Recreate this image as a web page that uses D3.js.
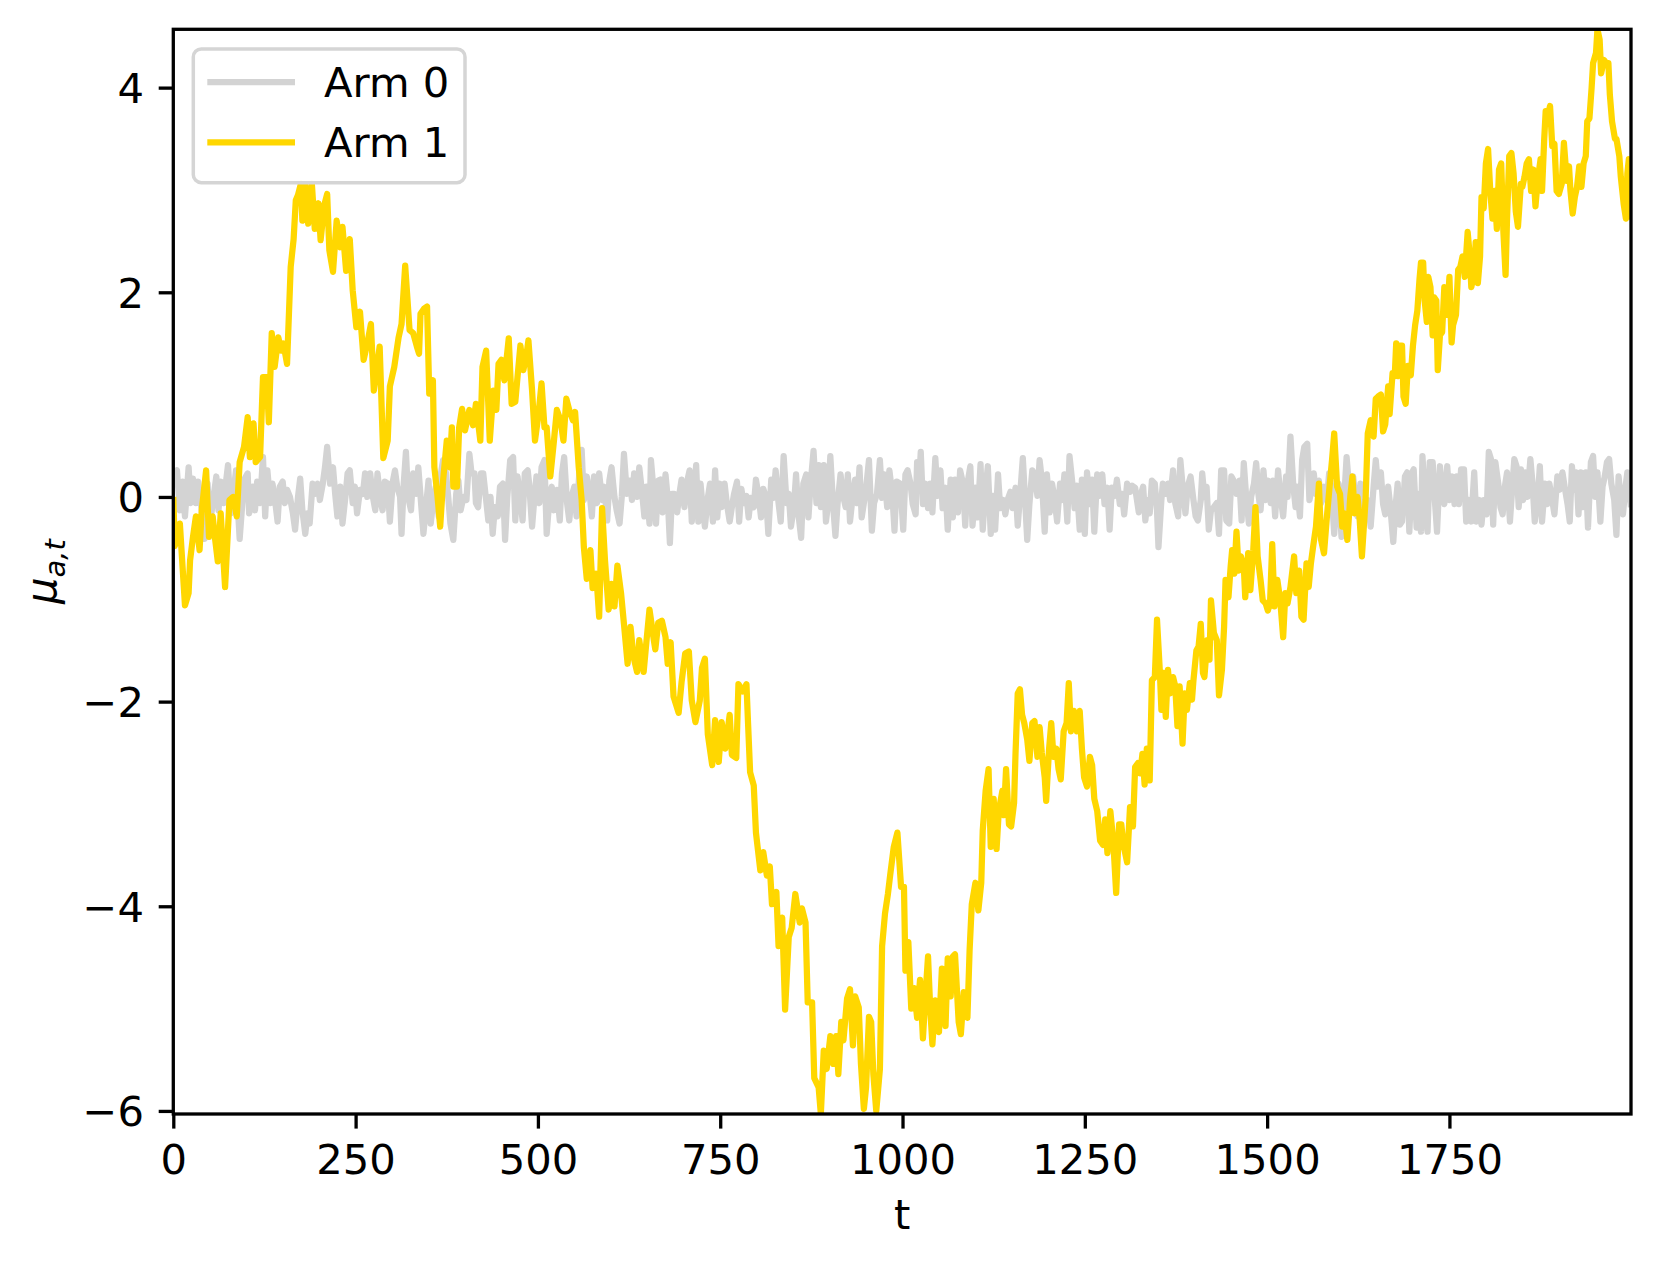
<!DOCTYPE html>
<html>
<head>
<meta charset="UTF-8">
<title>Arm means over time</title>
<script src="https://cdnjs.cloudflare.com/ajax/libs/d3/7.8.5/d3.min.js"></script>
<style>
body { margin: 0; background: #ffffff; }
svg text { font-family: "DejaVu Sans", sans-serif; fill: #000000; }
</style>
</head>
<body>
<div id="chart"></div>
<script>
/*global d3*/

// ---- data: time step t and mean mu for each arm ----
var arm0Steps = [0,5,9,13,16,21,24,27,31,34,39,43,47,50,54,59,62,65,69,72,75,79,82,86,89,91,95,98,102,104,109,112,115,119,123,126,129,133,136,139,143,146,150,153,156,160,164,167,171,174,177,181,184,187,191,194,198,201,205,208,211,215,219,222,225,229,232,236,239,242,246,249,252,256,260,263,266,270,273,277,280,284,287,290,294,297,301,304,307,311,313,316,319,322,326,329,333,336,
  343,347,350,353,357,360,364,367,370,374,377,380,384,388,391,394,398,402,406,409,413,415,418,422,425,429,432,435,438,441,445,448,452,455,458,462,466,469,472,476,479,482,486,488,492,495,498,502,505,509,512,516,519,522,526,530,533,536,540,543,546,550,553,557,560,563,567,571,574,577,581,584,588,591,595,598,601,605,608,612,615,618,622,626,629,632,636,639,643,646,649,653,655,659,662,665,
  668,671,675,678,681,684,687,691,694,697,701,704,708,711,713,717,720,723,726,729,733,736,740,743,746,749,752,756,759,763,766,769,773,776,779,782,786,789,792,796,799,803,806,809,813,816,820,823,826,830,833,837,841,844,847,851,854,857,861,864,868,871,874,878,882,885,888,892,895,898,901,905,908,911,915,918,922,925,928,932,935,938,941,944,947,950,954,958,961,965,969,972,975,979,982,986,989,992,
  997,1001,1004,1007,1011,1014,1018,1020,1023,1025,1028,1031,1035,1038,1041,1045,1048,1052,1055,1059,1062,1066,1069,1072,1076,1079,1083,1086,1089,1093,1096,1100,1103,1107,1110,1113,1117,1121,1124,1127,1131,1134,1138,1141,1144,1148,1151,1155,1158,1162,1165,1169,1171,1174,1178,1181,1185,1188,1191,1195,1198,1202,1205,1208,1212,1216,1219,1222,1226,1229,1233,1236,1239,1243,1246,1250,1253,1257,1260,1263,1267,1270,1274,1277,1281,1284,1287,1291,1294,1298,1301,1304,1308,1312,1315,1319,1324,
  1326,1330,1333,1336,1339,1342,1346,1349,1351,1355,1357,1361,1364,1367,1371,1374,1378,1381,1385,1388,1391,1395,1399,1402,1405,1409,1411,1414,1417,1420,1423,1427,1431,1434,1437,1441,1444,1448,1451,1454,1458,1462,1465,1468,1471,1475,1478,1482,1485,1488,1491,1495,1498,1501,1505,1508,1511,1515,1518,1522,1526,1528,1532,1536,1539,1541,1545,1548,1551,1555,1558,1562,1564,1567,1571,1574,1578,1582,1585,1588,1592,1595,1598,1602,1605,1609,1612,1615,1618,1621,1624,1628,1632,1635,1638,1642,1646,1649,1652,
  1656,1659,1662,1666,1669,1673,1676,1679,1682,1685,1689,1692,1695,1699,1701,1705,1708,1711,1713,1716,1720,1723,1727,1730,1733,1737,1740,1743,1747,1750,1754,1757,1760,1763,1766,1770,1773,1777,1780,1784,1787,1791,1794,1797,1801,1804,1807,1810,1813,1817,1820,1823,1826,1829,1833,1835,1839,1842,1845,1848,1851,1854,1857,1861,1864,1867,1871,1874,1877,1881,1884,1887,1891,1894,1898,1901,1905,1908,1912,1915,1918,1921,1924,1927,1930,1933,1937,1940,1944,1947,1950,1953,1957,1960,1963,1966,1969,1972,1976,1979,1982,1985,1988,1991,1994,1997,1999];
var arm0Means = [0.22,0.26,-0.13,0.15,-0.19,0.29,-0.06,0.18,-0.06,0.15,-0.13,-0.41,0.13,-0.29,-0.06,0.20,-0.13,0.15,-0.06,0.13,0.31,-0.16,0.00,0.26,-0.16,-0.41,-0.03,0.18,0.23,-0.16,0.10,-0.13,0.15,-0.06,0.39,-0.19,0.26,-0.06,0.13,0.00,-0.24,0.10,0.15,-0.06,0.07,0.00,-0.16,-0.32,0.00,0.18,-0.13,-0.36,-0.16,-0.26,0.13,0.03,0.13,-0.03,0.13,0.29,0.49,0.13,0.29,0.03,-0.19,0.10,-0.26,0.00,0.23,0.26,-0.06,0.10,-0.16,0.07,0.03,0.23,0.00,0.23,0.03,-0.13,0.23,-0.03,-0.13,0.15,0.13,-0.24,0.15,0.26,0.10,0.00,-0.36,0.13,0.44,0.00,-0.13,0.23,0.03,0.29,
  -0.36,-0.06,0.16,-0.26,0.00,0.10,-0.19,0.23,0.36,0.23,0.00,-0.26,-0.42,0.03,0.16,-0.13,0.00,-0.03,0.42,0.23,0.23,-0.06,-0.10,0.23,0.23,-0.03,-0.23,0.00,-0.36,-0.10,-0.19,0.10,0.13,-0.42,0.00,0.36,0.39,-0.23,0.20,-0.03,-0.23,0.23,0.26,0.13,-0.29,-0.03,0.20,-0.06,0.29,0.36,-0.36,0.00,0.10,-0.13,0.07,-0.23,0.23,0.39,-0.06,-0.23,0.00,0.10,-0.19,0.26,0.46,-0.03,0.20,0.03,-0.19,0.20,-0.06,0.23,-0.03,0.10,-0.23,0.16,0.29,0.00,-0.13,-0.26,0.00,0.42,0.03,0.16,-0.03,0.23,0.00,0.29,0.03,-0.19,0.10,-0.26,0.36,0.03,-0.26,0.16,
  0.17,-0.15,0.22,-0.01,-0.45,0.03,0.03,-0.15,0.03,0.17,-0.10,0.13,0.26,-0.24,-0.06,0.31,-0.24,0.13,-0.10,-0.29,-0.01,0.13,-0.24,0.26,-0.20,0.13,-0.10,0.13,-0.06,-0.24,-0.10,0.03,0.15,-0.24,0.08,-0.06,0.01,-0.20,-0.01,-0.10,0.17,-0.01,-0.20,0.08,-0.01,-0.36,0.17,-0.01,0.26,-0.06,-0.24,0.40,-0.06,0.03,-0.29,-0.10,0.22,-0.15,-0.40,0.13,0.22,-0.20,0.13,0.45,-0.06,0.31,-0.10,0.31,-0.24,-0.06,0.40,-0.10,-0.38,-0.06,0.22,0.03,-0.10,0.22,-0.24,0.03,0.17,-0.06,0.29,-0.20,-0.06,0.08,0.36,-0.33,-0.06,0.03,0.36,-0.01,0.22,-0.10,0.26,0.03,-0.33,0.15,
  0.13,-0.32,0.22,0.26,0.13,-0.07,-0.17,0.34,0.17,0.44,-0.07,0.13,-0.11,0.13,-0.15,0.38,0.01,0.26,-0.11,0.09,-0.32,0.17,-0.20,0.17,-0.15,0.26,0.13,-0.28,0.13,0.30,-0.28,0.09,-0.20,0.32,-0.32,0.01,0.30,-0.36,0.01,-0.32,0.22,-0.11,-0.03,-0.17,-0.03,0.05,-0.11,0.09,-0.28,0.09,0.38,-0.15,-0.42,-0.07,0.26,0.22,0.01,0.36,0.17,-0.34,0.22,-0.15,0.13,0.01,-0.24,0.13,-0.03,0.22,-0.24,0.40,0.13,-0.11,0.11,-0.32,0.17,-0.36,0.24,-0.07,0.17,-0.34,0.22,0.01,0.22,-0.07,0.09,-0.32,0.09,0.01,0.17,-0.07,0.03,-0.17,0.13,0.05,0.11,0.09,-0.15,
  0.00,0.10,-0.23,-0.03,-0.16,0.16,0.13,-0.13,-0.49,-0.03,0.13,0.03,0.13,-0.03,0.26,-0.06,-0.19,0.36,0.03,-0.16,0.10,0.20,-0.03,-0.19,-0.23,-0.03,0.23,0.00,0.10,-0.32,-0.13,-0.10,-0.06,-0.36,0.26,0.26,-0.23,-0.26,0.20,0.16,0.03,0.16,-0.23,0.33,0.03,-0.26,0.00,0.13,0.33,0.03,-0.13,0.26,-0.03,0.16,-0.06,0.16,-0.19,0.26,0.03,-0.19,0.20,0.00,0.59,0.10,-0.10,0.10,-0.19,0.36,0.49,0.52,-0.03,0.10,0.23,0.03,0.16,-0.06,0.10,-0.03,0.23,0.10,-0.36,-0.03,0.13,-0.39,-0.10,0.39,0.13,-0.13,0.20,-0.03,-0.19,0.13,-0.03,-0.16,-0.03,-0.29,0.10,0.36,0.10,
  0.24,-0.07,-0.17,0.10,-0.10,-0.44,-0.10,0.13,-0.27,-0.24,0.20,0.24,-0.34,0.24,0.27,-0.30,0.03,-0.34,0.40,0.03,-0.34,0.34,0.34,-0.03,-0.34,0.30,0.03,-0.07,0.30,-0.03,0.20,-0.07,0.20,-0.07,0.27,0.27,-0.24,-0.03,-0.24,0.24,-0.24,-0.03,-0.27,-0.03,-0.17,0.44,0.37,-0.27,0.34,0.13,-0.10,-0.17,0.10,0.24,-0.24,-0.03,0.37,0.30,-0.10,0.27,-0.03,0.24,0.00,0.37,0.13,-0.24,-0.03,0.30,-0.24,0.13,-0.07,0.13,-0.03,-0.17,0.20,0.07,0.24,0.10,-0.07,-0.24,0.30,0.07,0.24,-0.17,0.24,-0.10,0.24,-0.30,0.34,0.40,0.00,0.24,-0.24,0.10,0.20,0.34,0.37,0.13,-0.03,-0.37,0.20,-0.03,-0.17,0.07,0.24,0.03,-0.10];

var arm1Steps = [0,2,9,16,21,23,27,31,36,39,45,49,54,57,61,65,71,77,82,87,91,97,102,105,110,113,119,123,128,131,135,139,144,148,151,156,161,165,168,171,175,177,181,185,190,194,199,202,207,211,214,219,224,229,232,237,242,246,251,256,261,266,271,275,283,288,294,297,303,309,313,318,324,
  329,334,337,339,344,348,351,356,358,362,366,370,375,379,382,384,389,392,396,400,406,411,415,421,424,429,434,439,443,446,450,454,460,464,469,472,476,480,484,487,492,496,501,505,509,512,517,522,526,531,535,539,543,548,551,556,560,563,567,572,575,580,584,588,592,597,601,605,609,614,618,623,627,631,636,639,645,649,653,659,
  661,665,670,675,678,682,686,693,697,702,707,711,716,722,725,729,733,739,743,748,752,757,763,766,772,775,781,786,788,791,796,799,805,809,814,818,821,827,830,835,839,844,848,853,859,862,867,870,876,879,885,888,892,896,901,905,909,912,916,919,924,928,932,935,940,943,947,950,954,957,960,964,969,972,976,980,983,988,993,
  998,1002,1004,1008,1012,1016,1020,1024,1028,1031,1035,1038,1041,1045,1050,1054,1059,1062,1066,1069,1072,1077,1080,1084,1089,1092,1095,1100,1104,1108,1110,1114,1118,1121,1125,1129,1132,1137,1139,1142,1146,1149,1153,1155,1158,1161,1164,1167,1171,1174,1178,1181,1185,1188,1191,1195,1197,1201,1204,1207,1211,1214,1217,1221,1225,1228,1231,1235,1239,1243,1246,1249,1253,1257,1260,1263,1267,1271,1275,1278,1281,1285,1289,1293,1297,1300,1303,1308,1312,
  1316,1319,1323,1326,1329,1332,1335,1339,1342,1346,1349,1353,1355,1358,1361,1364,1367,1371,1374,1377,1380,1384,1387,1390,1394,1397,1399,1403,1406,1409,1412,1414,1418,1421,1423,1427,1431,1434,1438,1441,1443,1447,1450,1452,1455,1458,1461,1464,1468,1470,1474,1477,1481,1484,1487,1491,1494,1498,1501,1504,1507,1510,1514,1518,1522,1525,1528,1532,1537,1540,1544,1547,1550,1554,1557,1560,1563,1567,1571,1574,1578,1582,1586,1589,1592,1596,1600,1603,1606,1610,1614,1617,1620,1624,1627,1630,1635,1638,1642,1646,
  1649,1652,1656,1659,1662,1666,1668,1672,1675,1677,1679,1682,1685,1687,1690,1693,1697,1700,1703,1706,1709,1711,1714,1716,1719,1721,1724,1727,1729,1732,1734,1737,1740,1743,1747,1750,1753,1755,1759,1762,1765,1768,1771,1775,1778,1780,1784,1786,1789,1792,1794,1797,1800,1803,1806,1809,1812,1815,1818,1821,1824,1827,1829,1832,1835,1838,1841,1844,1848,1850,1853,1856,1859,1862,1865,1868,1871,1875,1877,1880,1882,1885,1888,1891,1894,1897,1900,1904,1907,1911,1914,1916,1919,1922,1925,1928,1931,1934,1937,1939,1942,1945,1947,1951,1953,1956,1958,1962,1965,1968,1970,1973,1977,1979,1983,1985,1989,1992,1994,1996,1999];
var arm1Means = [0,-0.48,-0.26,-1.06,-0.94,-0.62,-0.39,-0.19,-0.52,-0.13,0.26,-0.39,-0.19,-0.39,-0.63,-0.16,-0.88,-0.03,0.00,-0.19,0.34,0.49,0.78,0.39,0.72,0.34,0.39,1.17,1.17,0.73,1.60,1.27,1.56,1.43,1.50,1.30,2.25,2.52,2.90,2.95,3.06,2.70,3.05,2.67,3.06,2.62,2.87,2.51,2.85,2.96,2.41,2.20,2.70,2.44,2.64,2.21,2.52,2.02,1.66,1.81,1.34,1.50,1.69,1.04,1.47,0.38,0.55,1.08,1.27,1.56,1.69,2.26,1.63,
  1.60,1.47,1.40,1.79,1.84,1.86,1.01,1.14,0.29,0.03,-0.29,0.16,0.55,0.29,0.68,0.10,0.10,0.68,0.86,0.65,0.85,0.70,0.91,0.55,1.27,1.43,0.55,1.04,0.85,1.30,1.34,1.14,1.55,0.91,0.93,1.17,1.48,1.24,1.37,1.53,1.04,0.55,0.82,1.11,0.68,0.68,0.20,0.55,0.85,0.75,0.55,0.96,0.85,0.75,0.83,0.29,-0.03,-0.49,-0.80,-0.52,-0.89,-0.75,-1.17,-0.11,-0.62,-1.10,-0.85,-1.07,-0.67,-0.94,-1.24,-1.63,-1.27,-1.56,-1.71,-1.40,-1.71,-1.40,-1.10,-1.40,
  -1.49,-1.23,-1.21,-1.37,-1.63,-1.42,-1.95,-2.11,-1.81,-1.53,-1.51,-1.99,-2.20,-1.99,-1.67,-1.58,-2.32,-2.62,-2.18,-2.59,-2.20,-2.46,-2.13,-2.52,-2.55,-1.83,-1.90,-1.83,-2.18,-2.69,-2.82,-3.28,-3.65,-3.47,-3.70,-3.61,-3.98,-3.86,-4.39,-4.11,-5.01,-4.30,-4.21,-3.88,-4.16,-4.02,-4.16,-4.94,-4.94,-5.68,-5.77,-6.03,-5.41,-5.59,-5.27,-5.54,-5.27,-5.64,-5.13,-5.31,-4.90,-4.81,-5.36,-4.88,-4.99,-5.54,-5.98,-5.77,-5.08,-5.13,-5.64,-6.00,-5.59,-4.39,-4.07,-3.88,-3.70,-3.42,-3.28,
  -3.81,-3.81,-4.63,-4.35,-5.00,-4.80,-5.09,-4.72,-5.29,-4.92,-4.49,-5.00,-5.35,-4.92,-5.23,-4.61,-5.17,-4.51,-4.88,-4.49,-4.47,-5.13,-5.25,-4.84,-5.09,-4.43,-3.98,-3.77,-4.04,-3.77,-3.26,-2.87,-2.66,-3.42,-2.95,-3.44,-3.07,-2.87,-3.11,-2.66,-3.20,-3.22,-2.99,-2.50,-1.92,-1.88,-2.13,-2.21,-2.37,-2.58,-2.21,-2.19,-2.54,-2.25,-2.50,-2.74,-2.97,-2.46,-2.21,-2.54,-2.46,-2.66,-2.76,-2.29,-2.21,-1.82,-2.29,-2.09,-2.29,-2.09,-2.46,-2.74,-2.83,-2.54,-2.62,-2.95,-3.07,-3.36,-3.40,-3.15,-3.48,-3.07,-3.36,-3.87,-3.20,-3.20,-3.40,-3.57,-3.03,
  -3.22,-2.64,-2.60,-2.70,-2.51,-2.81,-2.46,-2.77,-1.79,-1.76,-1.20,-1.72,-2.08,-1.72,-2.15,-1.69,-1.92,-1.76,-1.85,-2.24,-1.85,-2.41,-1.92,-2.08,-1.82,-1.98,-1.79,-1.50,-1.46,-1.24,-1.72,-1.76,-1.40,-1.59,-1.01,-1.33,-1.40,-1.94,-1.69,-1.27,-0.81,-0.98,-0.68,-0.52,-0.75,-0.34,-0.72,-0.58,-0.68,-0.98,-0.55,-0.91,-0.52,-0.10,-0.58,-0.81,-1.01,-1.04,-1.11,-1.04,-0.46,-1.07,-0.81,-1.01,-1.37,-0.94,-1.04,-0.88,-0.58,-0.94,-0.72,-1.17,-1.20,-0.65,-0.88,-0.65,-0.49,-0.29,0.13,-0.42,-0.55,-0.19,0.13,0.36,0.62,0.10,0.03,-0.29,-0.16,-0.42,0.00,0.20,-0.16,0.00,-0.23,-0.58,-0.03,0.62,0.75,0.59,
  0.96,0.98,1.00,0.64,0.71,1.08,0.81,1.21,1.18,1.50,1.18,1.48,1.48,0.98,0.91,1.28,1.19,1.48,1.68,1.82,2.13,2.29,2.29,1.92,1.71,2.15,2.05,1.58,1.95,1.92,1.24,1.58,1.61,2.05,1.78,2.15,1.51,1.68,1.78,2.22,2.25,2.35,2.15,2.59,2.35,2.05,2.19,2.49,2.09,2.35,2.93,2.82,3.26,3.40,2.99,2.72,2.99,2.62,3.20,3.26,2.59,2.17,2.72,3.33,3.36,3.16,2.79,2.64,3.06,3.03,3.13,3.26,3.30,2.99,3.20,2.84,3.09,3.30,2.99,3.50,3.77,3.73,3.82,3.43,3.45,2.99,2.96,3.06,3.46,3.09,3.23,2.99,2.77,2.93,3.03,3.23,3.03,3.26,3.33,3.67,3.70,4.00,4.24,4.34,4.57,4.47,4.14,4.27,4.24,4.24,3.93,3.67,3.50,3.50,3.33,3.13,2.86,2.72,3.16,3.30,2.71];

var xTicks = [0, 250, 500, 750, 1000, 1250, 1500, 1750];
var yTicks = [-6, -4, -2, 0, 2, 4];
var armNames = ["Arm 0", "Arm 1"];
var armColors = ["#d3d3d3", "#ffd700"];

// ---- layout ----
var width = 1660, height = 1268;
var margin = {top: 29.3, right: 29, bottom: 154, left: 173.3};
var fontSize = 41.7;
var lw = 6.25;

function pairUp(steps, means) {
    var n = Math.min(steps.length, means.length);
    if (steps.length != means.length) console.log("length mismatch", steps.length, means.length);
    var out = [];
    for (var i = 0; i < n; i++) out.push([steps[i], means[i]]);
    return out;
}
var series = [pairUp(arm0Steps, arm0Means), pairUp(arm1Steps, arm1Means)];

var allMeans = arm0Means.concat(arm1Means);
var x = d3.scaleLinear()
    .domain([0, 1999])
    .range([margin.left, width - margin.right]);
var y = d3.scaleLinear()
    .domain([d3.min(allMeans), d3.max(allMeans)])
    .range([height - margin.bottom, margin.top]);

var svg = d3.select("#chart").append("svg")
    .attr("width", width)
    .attr("height", height);

svg.append("defs").append("clipPath")
    .attr("id", "plotArea")
    .append("rect")
    .attr("x", margin.left)
    .attr("y", margin.top)
    .attr("width", width - margin.left - margin.right)
    .attr("height", height - margin.top - margin.bottom);

var line = d3.line()
    .x(function (d) { return x(d[0]); })
    .y(function (d) { return y(d[1]); });

svg.append("g")
    .attr("clip-path", "url(#plotArea)")
    .selectAll("path")
    .data(series)
    .enter()
    .append("path")
    .attr("d", line)
    .attr("fill", "none")
    .attr("stroke", function (d, i) { return armColors[i]; })
    .attr("stroke-width", lw)
    .attr("stroke-linejoin", "round");

// ---- axes ----
var xAxis = svg.append("g")
    .attr("transform", "translate(0," + (height - margin.bottom) + ")")
    .call(d3.axisBottom(x).tickValues(xTicks).tickSize(14.6).tickPadding(16).tickSizeOuter(0)
        .tickFormat(d3.format("d")));
var yAxis = svg.append("g")
    .attr("transform", "translate(" + margin.left + ",0)")
    .call(d3.axisLeft(y).tickValues(yTicks).tickSize(14.6).tickPadding(14.7).tickSizeOuter(0)
        .tickFormat(d3.format("d")));

[xAxis, yAxis].forEach(function (ax) {
    ax.select(".domain").remove();
    ax.selectAll(".tick line").attr("stroke", "#000").attr("stroke-width", 3.3);
    ax.selectAll(".tick text")
        .attr("font-family", "DejaVu Sans")
        .attr("font-size", fontSize)
        .attr("fill", "#000");
});
yAxis.selectAll(".tick text").attr("dy", "0.36em");

// frame (spines)
svg.append("rect")
    .attr("x", margin.left)
    .attr("y", margin.top)
    .attr("width", width - margin.left - margin.right)
    .attr("height", height - margin.top - margin.bottom)
    .attr("fill", "none")
    .attr("stroke", "#000")
    .attr("stroke-width", 3.3);

// axis labels
svg.append("text")
    .attr("x", (margin.left + width - margin.right) / 2)
    .attr("y", 1229)
    .attr("text-anchor", "middle")
    .attr("font-size", fontSize)
    .text("t");

var yLab = svg.append("text")
    .attr("transform", "translate(56," + ((margin.top + height - margin.bottom) / 2) + ") rotate(-90)")
    .attr("text-anchor", "middle")
    .attr("font-size", fontSize)
    .attr("font-style", "italic");
yLab.append("tspan").text("\u03bc");
yLab.append("tspan").attr("font-size", 29).attr("dy", 9).text("a,t");

// ---- legend ----
var legend = svg.append("g");
legend.append("rect")
    .attr("x", 193.3)
    .attr("y", 49)
    .attr("width", 271.7)
    .attr("height", 133.7)
    .attr("rx", 8)
    .attr("fill", "#ffffff")
    .attr("fill-opacity", 0.8)
    .attr("stroke", "#d5d5d5")
    .attr("stroke-width", 3.5);

var rows = legend.selectAll(".row")
    .data(armNames)
    .enter()
    .append("g")
    .attr("class", "row")
    .attr("transform", function (d, i) { return "translate(0," + (82 + i * 60.3) + ")"; });
rows.append("line")
    .attr("x1", 207.3)
    .attr("x2", 295)
    .attr("stroke", function (d, i) { return armColors[i]; })
    .attr("stroke-width", lw);
rows.append("text")
    .attr("x", 324)
    .attr("y", 15)
    .attr("font-size", fontSize)
    .text(function (d) { return d; });
</script>
</body>
</html>
